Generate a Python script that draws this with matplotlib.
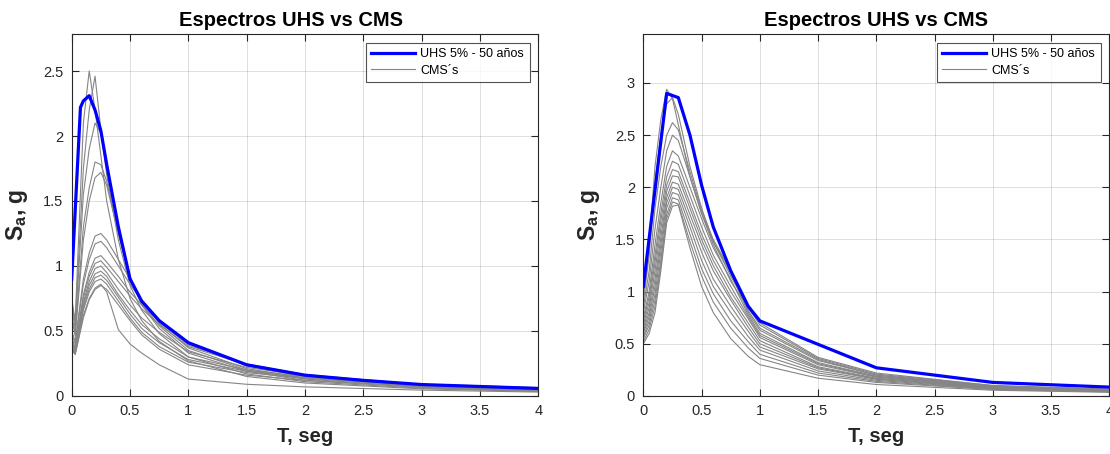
import matplotlib as mpl
mpl.use('Agg')
import matplotlib.pyplot as plt

plt.rcParams['font.family'] = ['Liberation Sans', 'DejaVu Sans']
plt.rcParams['mathtext.fontset'] = 'custom'
plt.rcParams['mathtext.rm'] = 'Liberation Sans'
plt.rcParams['mathtext.bf'] = 'Liberation Sans:bold'

# ---- espectro UHS y CMS, sitio 1 ----
T_uhs_1 = [0, 0.075, 0.1, 0.15, 0.2, 0.25, 0.3, 0.4, 0.5, 0.6, 0.75, 1.0, 1.5, 2.0, 2.5, 3.0, 4.0]
Sa_uhs_1 = [0.9, 2.22, 2.27, 2.31, 2.2, 2.04, 1.78, 1.3, 0.9, 0.73, 0.58, 0.41, 0.24, 0.16, 0.12, 0.088, 0.058]

T_cms_1 = [0, 0.03, 0.1, 0.15, 0.2, 0.25, 0.3, 0.4, 0.5, 0.6, 0.75, 1.0, 1.5, 2.0, 3.0, 4.0]
Sa_cms_1 = [
    [0.75, 0.58, 2.10, 2.50, 2.20, 1.85, 1.50, 1.05, 0.75, 0.58, 0.42, 0.27, 0.15, 0.10, 0.055, 0.035],
    [0.72, 0.55, 1.75, 2.20, 2.46, 2.05, 1.70, 1.20, 0.85, 0.66, 0.48, 0.30, 0.17, 0.11, 0.060, 0.038],
    [0.68, 0.52, 1.55, 1.90, 2.10, 2.02, 1.78, 1.28, 0.90, 0.70, 0.52, 0.33, 0.19, 0.12, 0.065, 0.040],
    [0.62, 0.48, 1.30, 1.60, 1.80, 1.78, 1.65, 1.25, 0.90, 0.71, 0.54, 0.35, 0.20, 0.13, 0.070, 0.045],
    [0.60, 0.46, 1.20, 1.50, 1.68, 1.72, 1.62, 1.25, 0.92, 0.73, 0.56, 0.37, 0.21, 0.14, 0.075, 0.048],
    [0.50, 0.42, 0.90, 1.10, 1.23, 1.25, 1.20, 1.05, 0.90, 0.74, 0.58, 0.41, 0.23, 0.15, 0.080, 0.050],
    [0.48, 0.40, 0.86, 1.05, 1.17, 1.19, 1.14, 1.00, 0.86, 0.73, 0.58, 0.40, 0.24, 0.16, 0.085, 0.055],
    [0.45, 0.37, 0.78, 0.95, 1.06, 1.08, 1.03, 0.92, 0.80, 0.70, 0.57, 0.39, 0.245, 0.165, 0.088, 0.057],
    [0.43, 0.36, 0.75, 0.92, 1.02, 1.04, 0.99, 0.88, 0.77, 0.67, 0.55, 0.38, 0.24, 0.16, 0.090, 0.060],
    [0.41, 0.35, 0.72, 0.88, 0.98, 1.00, 0.95, 0.82, 0.70, 0.60, 0.49, 0.34, 0.22, 0.155, 0.088, 0.060],
    [0.40, 0.34, 0.70, 0.85, 0.94, 0.96, 0.92, 0.78, 0.66, 0.55, 0.44, 0.30, 0.20, 0.15, 0.085, 0.062],
    [0.38, 0.33, 0.68, 0.82, 0.91, 0.93, 0.89, 0.76, 0.63, 0.52, 0.41, 0.28, 0.19, 0.14, 0.090, 0.065],
    [0.37, 0.33, 0.66, 0.80, 0.88, 0.90, 0.86, 0.73, 0.60, 0.49, 0.38, 0.26, 0.18, 0.135, 0.085, 0.060],
    [0.36, 0.32, 0.62, 0.75, 0.83, 0.86, 0.80, 0.51, 0.40, 0.33, 0.24, 0.13, 0.09, 0.07, 0.045, 0.030],
    [0.35, 0.32, 0.60, 0.74, 0.82, 0.85, 0.82, 0.70, 0.58, 0.47, 0.36, 0.24, 0.16, 0.12, 0.075, 0.055],
]

# ---- espectro UHS y CMS, sitio 2 ----
T_uhs_2 = [0, 0.2, 0.3, 0.4, 0.5, 0.6, 0.75, 0.9, 1.0, 2.0, 3.0, 4.0]
Sa_uhs_2 = [1.05, 2.9, 2.86, 2.5, 2.02, 1.62, 1.2, 0.86, 0.72, 0.27, 0.13, 0.085]

T_cms_2 = [0, 0.05, 0.1, 0.15, 0.2, 0.25, 0.3, 0.4, 0.5, 0.6, 0.75, 0.9, 1.0, 1.5, 2.0, 3.0, 4.0]
Sa_cms_2 = [
    [0.95, 1.45, 2.20, 2.65, 2.94, 2.85, 2.60, 2.10, 1.75, 1.45, 1.10, 0.84, 0.70, 0.37, 0.22, 0.100, 0.065],
    [0.90, 1.35, 2.05, 2.50, 2.80, 2.86, 2.70, 2.20, 1.80, 1.48, 1.15, 0.85, 0.68, 0.36, 0.21, 0.100, 0.062],
    [0.85, 1.20, 1.80, 2.20, 2.50, 2.62, 2.55, 2.15, 1.78, 1.50, 1.20, 0.82, 0.65, 0.35, 0.20, 0.095, 0.060],
    [0.80, 1.10, 1.60, 2.00, 2.35, 2.50, 2.45, 2.10, 1.75, 1.48, 1.18, 0.80, 0.63, 0.34, 0.20, 0.090, 0.058],
    [0.75, 1.00, 1.45, 1.85, 2.20, 2.35, 2.30, 2.00, 1.70, 1.42, 1.12, 0.78, 0.60, 0.32, 0.19, 0.088, 0.056],
    [0.72, 0.95, 1.35, 1.75, 2.10, 2.25, 2.22, 1.92, 1.62, 1.35, 1.05, 0.76, 0.58, 0.31, 0.185, 0.085, 0.055],
    [0.68, 0.90, 1.28, 1.68, 2.02, 2.17, 2.15, 1.85, 1.55, 1.30, 1.00, 0.74, 0.56, 0.30, 0.18, 0.083, 0.053],
    [0.65, 0.85, 1.20, 1.60, 1.96, 2.11, 2.10, 1.80, 1.50, 1.25, 0.95, 0.70, 0.53, 0.28, 0.17, 0.080, 0.050],
    [0.62, 0.80, 1.12, 1.52, 1.90, 2.05, 2.03, 1.74, 1.45, 1.20, 0.92, 0.66, 0.50, 0.27, 0.165, 0.077, 0.048],
    [0.60, 0.76, 1.05, 1.45, 1.85, 2.00, 1.98, 1.68, 1.38, 1.12, 0.86, 0.62, 0.47, 0.26, 0.16, 0.074, 0.046],
    [0.57, 0.72, 0.98, 1.38, 1.80, 1.95, 1.93, 1.62, 1.30, 1.05, 0.80, 0.57, 0.44, 0.24, 0.15, 0.070, 0.044],
    [0.55, 0.68, 0.92, 1.30, 1.74, 1.90, 1.88, 1.55, 1.22, 0.98, 0.72, 0.52, 0.40, 0.22, 0.14, 0.066, 0.042],
    [0.52, 0.64, 0.86, 1.25, 1.70, 1.86, 1.84, 1.48, 1.15, 0.90, 0.65, 0.46, 0.36, 0.20, 0.13, 0.062, 0.040],
    [0.50, 0.60, 0.80, 1.20, 1.66, 1.82, 1.83, 1.42, 1.05, 0.80, 0.55, 0.38, 0.30, 0.17, 0.11, 0.055, 0.035],
]

x_ticks = [0, 0.5, 1, 1.5, 2, 2.5, 3, 3.5, 4]
y_ticks_1 = [0, 0.5, 1, 1.5, 2, 2.5]
y_ticks_2 = [0, 0.5, 1, 1.5, 2, 2.5, 3]
y_max = [2.785, 3.47]

titulo = 'Espectros UHS vs CMS'
leyenda = ['UHS 5% - 50 años', 'CMS´s']

fig = plt.figure(figsize=(11.1, 4.54), dpi=100)
ax1 = fig.add_axes([0.0646, 0.1278, 0.4204, 0.7974])
ax2 = fig.add_axes([0.5796, 0.1278, 0.4198, 0.7974])

paneles = [
    (ax1, T_uhs_1, Sa_uhs_1, T_cms_1, Sa_cms_1, y_ticks_1, y_max[0], 0.47),
    (ax2, T_uhs_2, Sa_uhs_2, T_cms_2, Sa_cms_2, y_ticks_2, y_max[1], 0.5),
]

eje_color = '#262626'
for ax, tu, su, tc, sc, yt, ym, xt in paneles:
    for k, s in enumerate(sc):
        ax.plot(tc, s, color='#858585', lw=0.8, label=leyenda[1] if k == 0 else None, zorder=2)
    ax.plot(tu, su, color='#0000ff', lw=2.3, label=leyenda[0], zorder=3)
    ax.set_xlim(0, 4)
    ax.set_ylim(0, ym)
    ax.set_xticks(x_ticks)
    ax.set_xticklabels(['%g' % v for v in x_ticks])
    ax.set_yticks(yt)
    ax.set_yticklabels(['%g' % v for v in yt])
    ax.grid(True, color=eje_color, alpha=0.15, lw=0.7)
    ax.tick_params(direction='in', top=True, right=True, length=5, width=0.8,
                   labelsize=10.5, colors=eje_color, pad=6)
    for sp in ax.spines.values():
        sp.set_color(eje_color)
        sp.set_linewidth(0.8)
    ax.set_title(titulo, fontsize=14.5, fontweight='bold', pad=6, x=xt)
    ax.set_xlabel('T, seg', fontsize=14.5, fontweight='bold', color=eje_color, labelpad=6)
    ax.set_ylabel(r'$\mathbf{S_a}$, g', fontsize=16.5, fontweight='bold', color=eje_color, labelpad=9)
    h, l = ax.get_legend_handles_labels()
    leg = ax.legend(h[::-1], l[::-1], loc='upper right', fontsize=9, frameon=True,
                    fancybox=False, handlelength=3.5, borderaxespad=0.7,
                    handletextpad=0.4, labelspacing=0.35, borderpad=0.45)
    leg.get_frame().set_edgecolor(eje_color)
    leg.get_frame().set_linewidth(0.8)

fig.savefig('out.png', dpi=100)
